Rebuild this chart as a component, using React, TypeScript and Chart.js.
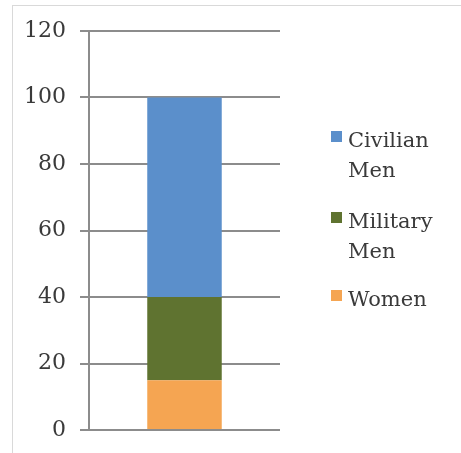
import React, { useEffect, useRef } from "react";
import { Chart, registerables } from "chart.js";

Chart.register(...registerables);

const categories = [""];
const seriesNames = ["Women", "Military Men", "Civilian Men"];
const legendLines = [["Civilian", "Men"], ["Military", "Men"], ["Women"]];
const womenValues = [15];
const militaryMenValues = [25];
const civilianMenValues = [60];
const seriesColors = ["#F5A552", "#5F7330", "#5B8FCB"];
const legendColors = ["#5B8FCB", "#5F7330", "#F5A552"];
const yTicks = [0, 20, 40, 60, 80, 100, 120];

const FONT = "'DejaVu Serif', serif";

const legendPlugin = {
  id: "customLegend",
  afterDraw(chart: any) {
    const ctx = chart.ctx;
    ctx.save();
    ctx.font = `21px ${FONT}`;
    ctx.textBaseline = "alphabetic";
    ctx.textAlign = "left";
    const baselines = [147, 228, 306];
    legendLines.forEach((lines, i) => {
      const b = baselines[i];
      ctx.fillStyle = legendColors[i];
      ctx.fillRect(331, b - 16, 11, 11);
      ctx.fillStyle = "#3a3a3a";
      lines.forEach((t, j) => {
        ctx.fillText(t, 348, b + j * 30);
      });
    });
    ctx.restore();
  },
};

export default function App() {
  const ref = useRef<HTMLCanvasElement>(null);
  useEffect(() => {
    if (!ref.current) return;
    const chart = new Chart(ref.current, {
      type: "bar",
      data: {
        labels: categories,
        datasets: [
          { label: seriesNames[0], data: womenValues, backgroundColor: seriesColors[0] },
          { label: seriesNames[1], data: militaryMenValues, backgroundColor: seriesColors[1] },
          { label: seriesNames[2], data: civilianMenValues, backgroundColor: seriesColors[2] },
        ],
      },
      options: {
        responsive: false,
        animation: false,
        layout: { padding: { top: 31, bottom: 23, left: 0, right: 181 } },
        plugins: { legend: { display: false }, tooltip: { enabled: false } },
        datasets: { bar: { barPercentage: 0.39, categoryPercentage: 1 } },
        scales: {
          x: { stacked: true, display: false },
          y: {
            stacked: true,
            min: 0,
            max: 120,
            afterBuildTicks: (scale: any) => {
              scale.ticks = yTicks.map((v) => ({ value: v }));
            },
            afterFit: (scale: any) => {
              scale.width = 89;
              scale.paddingTop = 0;
              scale.paddingBottom = 0;
            },
            grid: { color: "#8c8c8c", lineWidth: 2, tickLength: 9, drawTicks: true },
            border: { display: true, color: "#8c8c8c", width: 2 },
            ticks: {
              padding: 14,
              color: "#3a3a3a",
              font: { family: FONT, size: 22 },
            },
          },
        },
      },
      plugins: [legendPlugin],
    });
    return () => chart.destroy();
  }, []);
  return (
    <div style={{ position: "fixed", left: 0, top: 0, width: 461, height: 453, background: "#fff" }}>
      <div
        style={{
          position: "absolute",
          left: 12,
          top: 5,
          right: -2,
          bottom: -2,
          border: "1px solid #d9d9d9",
        }}
      />
      <canvas ref={ref} width={461} height={453} style={{ position: "absolute", left: 0, top: 0 }} />
    </div>
  );
}
